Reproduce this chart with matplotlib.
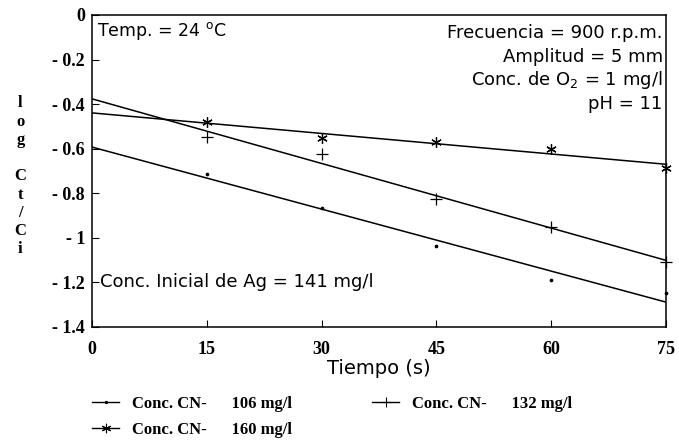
import numpy as np
import matplotlib.pyplot as plt
from matplotlib.lines import Line2D

# tiempo (s) y log Ct/Ci
tiempo = [15, 30, 45, 60, 75]
cn_106 = [-0.713, -0.866, -1.036, -1.189, -1.247]
cn_132 = [-0.547, -0.624, -0.826, -0.951, -1.108]
cn_160 = [-0.480, -0.552, -0.570, -0.601, -0.686]

series = [("Conc. CN-      106 mg/l", cn_106, '.', 3.5),
          ("Conc. CN-      132 mg/l", cn_132, '+', 8),
          ("Conc. CN-      160 mg/l", cn_160, (6, 2, 0), 7.5)]

xticks = [0, 15, 30, 45, 60, 75]
yticks = [0, -0.2, -0.4, -0.6, -0.8, -1.0, -1.2, -1.4]
ylabels = ['0', '- 0.2', '- 0.4', '- 0.6', '- 0.8', '- 1', '- 1.2', '- 1.4']

serif = {'family': 'Liberation Serif', 'weight': 'bold'}
sans = {'family': 'DejaVu Sans'}

fig = plt.figure(figsize=(6.79, 4.40), dpi=100)
ax = fig.add_axes([0.1355, 0.257, 0.845, 0.709])

xx = np.array([0, 75])
handles = []
for name, vals, mk, ms in series:
    slope, icpt = np.polyfit(tiempo, vals, 1)
    ax.plot(xx, icpt + slope*xx, color='black', lw=1.1)
    ax.plot(tiempo, vals, ls='none', marker=mk, ms=ms, color='black',
            mew=0.9, clip_on=False)
    handles.append(Line2D([], [], color='black', lw=1.0, marker=mk,
                          ms=ms*0.9, mew=0.8, label=name))

ax.set_xlim(0, 75)
ax.set_ylim(-1.4, 0)
ax.set_xticks(xticks)
ax.set_xticklabels([str(t) for t in xticks], fontdict=serif, fontsize=13)
ax.set_yticks(yticks)
ax.set_yticklabels(ylabels, fontdict=serif, fontsize=13)
ax.tick_params(direction='in', length=5, width=0.8)
ax.tick_params(axis='x', pad=10)
ax.tick_params(axis='y', pad=5)
for s in ax.spines.values():
    s.set_linewidth(1.1)

ax.set_xlabel('Tiempo (s)', fontdict=sans, fontsize=14, labelpad=1)

# etiqueta vertical letra por letra
ylab = ['l', 'o', 'g', '', 'C', 't', '/', 'C', 'i']
for i, ch in enumerate(ylab):
    fig.text(0.03, 0.765 - i*0.0415, ch, ha='center', va='center',
             fontdict=serif, fontsize=12)

ax.text(0.7, -0.07, 'Temp. = 24 $^{\\mathrm{o}}$C', ha='left', va='center',
        fontdict=sans, fontsize=12.5)
cond = ['Frecuencia = 900 r.p.m.', 'Amplitud = 5 mm',
        'Conc. de O$_2$ = 1 mg/l', 'pH = 11']
for i, t in enumerate(cond):
    ax.text(74.6, -0.08 - i*0.107, t, ha='right', va='center',
            fontdict=sans, fontsize=13)
ax.text(1.1, -1.2, 'Conc. Inicial de Ag = 141 mg/l', ha='left', va='center',
        fontdict=sans, fontsize=13)

fig.legend(handles=[handles[0], handles[2], handles[1]], ncol=2,
           loc='upper left', bbox_to_anchor=(0.114, 0.134), frameon=False,
           prop={'family': 'Liberation Serif', 'weight': 'bold', 'size': 12},
           handlelength=1.6, columnspacing=4.8, labelspacing=0.6,
           handletextpad=0.8)

fig.savefig('out.png', dpi=100)
